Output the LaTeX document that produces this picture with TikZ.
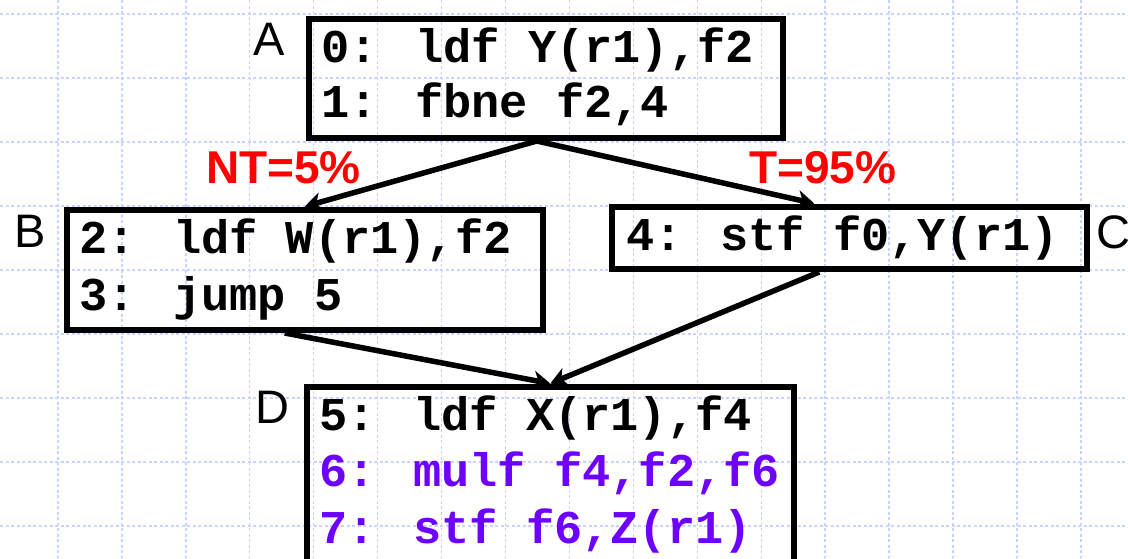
\documentclass[tikz,border=0pt]{standalone}
\usepackage{fontspec}
\usetikzlibrary{arrows.meta}
\setmainfont{Liberation Sans}
\newfontfamily\codefont{Liberation Mono}
\definecolor{gridblue}{RGB}{200,212,255}
\definecolor{instpurple}{RGB}{110,0,255}
\definecolor{probred}{RGB}{255,0,0}
\begin{document}
\begin{tikzpicture}[x=1pt,y=-1pt,
  block/.style={draw=black, line width=6.5pt, rectangle, inner sep=0pt, anchor=north west},
  codeline/.style={anchor=base west, inner sep=0pt, font=\codefont\bfseries\fontsize{47}{47}\selectfont},
  blockname/.style={anchor=base west, inner sep=0pt, font=\fontsize{47}{47}\selectfont},
  prob/.style={anchor=base west, inner sep=0pt, text=probred, font=\bfseries\fontsize{46}{46}\selectfont},
  flow/.style={draw=black, line width=5.5pt, -{Stealth[length=17pt,width=19pt,inset=5pt]}},
  gridline/.style={draw=gridblue, line width=1.4pt, dash pattern=on 3pt off 2.5pt}]
  \useasboundingbox (0,0) rectangle (1128,558);
  \fill[white] (0,0) rectangle (1128,558);
  \clip (0,0) rectangle (1128,558);

  % background grid
  \foreach \k in {0,...,16} {
    \draw[gridline] ({58+63.93*\k},0) -- ({58+63.93*\k},558);
  }
  \foreach \k in {0,...,8} {
    \draw[gridline] (0,{14+64*\k}) -- (1128,{14+64*\k});
  }

  % basic blocks
  \node[block, minimum width=474pt, minimum height=119pt] (A) at (305.5,15.5) {};
  \node[block, minimum width=476pt, minimum height=120pt] (B) at (63.5,206.5) {};
  \node[block, minimum width=475pt, minimum height=62pt] (C) at (608.5,203.5) {};
  \node[block, minimum width=487pt, minimum height=240pt] (D) at (303.5,383.5) {};

  % block names
  \node[blockname] (nA) at (253,55) {A};
  \node[blockname] (nB) at (14,247) {B};
  \node[blockname] (nC) at (1096,248) {C};
  \node[blockname] (nD) at (255,423) {D};

  % instructions
  \node[codeline] (i0) at (321,62) {0: ldf Y(r1),f2};
  \node[codeline] (i1) at (321,117) {1: fbne f2,4};
  \node[codeline] (i2) at (79,253) {2: ldf W(r1),f2};
  \node[codeline] (i3) at (79,310) {3: jump 5};
  \node[codeline] (i4) at (626,250) {4: stf f0,Y(r1)};
  \node[codeline] (i5) at (319,430) {5: ldf X(r1),f4};
  \node[codeline, text=instpurple] (i6) at (319,486) {6: mulf f4,f2,f6};
  \node[codeline, text=instpurple] (i7) at (319,543) {7: stf f6,Z(r1)};

  % branch probabilities
  \node[prob] (pNT) at (206,183) {NT=5\%};
  \node[prob] (pT) at (749,183) {T=95\%};

  % control flow edges
  \draw[flow] ([xshift=-9pt]A.south) -- (B.north);
  \draw[flow] ([xshift=-9pt]A.south) -- ([xshift=-35pt]C.north);
  \draw[flow] ([xshift=-20pt]B.south) -- (D.north);
  \draw[flow] ([xshift=-30pt]C.south) -- (D.north);
\end{tikzpicture}
\end{document}
